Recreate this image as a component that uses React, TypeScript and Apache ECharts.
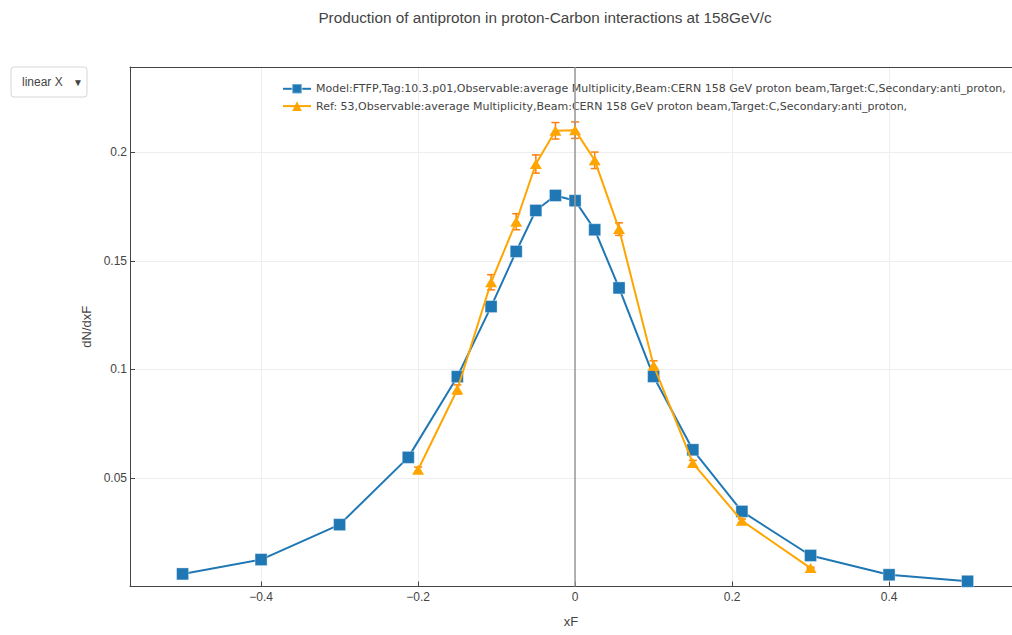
import React, { useEffect, useRef } from "react";
import * as echarts from "echarts";

// Model prediction (FTFP, Geant4 10.3.p01)
const modelName =
  "Model:FTFP,Tag:10.3.p01,Observable:average Multiplicity,Beam:CERN 158 GeV proton beam,Target:C,Secondary:anti_proton,";
const modelX = [-0.5, -0.4, -0.3, -0.2125, -0.15, -0.107, -0.075, -0.05, -0.025, 0, 0.025, 0.056, 0.1, 0.15, 0.2125, 0.3, 0.4, 0.5];
const modelY = [0.0058, 0.0124, 0.0285, 0.0595, 0.0967, 0.129, 0.1544, 0.1733, 0.1802, 0.1778, 0.1644, 0.1376, 0.0968, 0.063, 0.0346, 0.0143, 0.0054, 0.0024];

// Reference measurement with its uncertainties
const refName =
  "Ref: 53,Observable:average Multiplicity,Beam:CERN 158 GeV proton beam,Target:C,Secondary:anti_proton,";
const refX = [-0.2, -0.15, -0.107, -0.075, -0.05, -0.025, 0, 0.025, 0.056, 0.1, 0.15, 0.2125, 0.3];
const refY = [0.0538, 0.0908, 0.1402, 0.1681, 0.1947, 0.21, 0.2103, 0.1964, 0.1647, 0.1019, 0.0569, 0.0303, 0.0085];
const refErr = [0.0012, 0.0021, 0.0035, 0.0037, 0.0042, 0.0038, 0.0038, 0.0038, 0.0029, 0.0021, 0.0012, 0.0008, 0.0004];

const titleText = "Production of antiproton in proton-Carbon interactions at 158GeV/c";
const xName = "xF";
const yName = "dN/dxF";

// visible xF window (the plot continues past the right edge)
const X_MIN = -0.567;
const X_MAX = 0.5566;

const BLUE = "#1f77b4";
const ORANGE = "#ffa500";
const ERR = "#ff7f0e";
const TXT = "#444";
const SANS = "'Liberation Sans', Arial, sans-serif";

export default function App() {
  const ref = useRef<HTMLDivElement>(null);

  useEffect(() => {
    if (!ref.current) return;
    const chart = echarts.init(ref.current, undefined, { renderer: "svg" });

    const modelData = modelX.map((x, i) => [x, modelY[i]]);
    const refData = refX.map((x, i) => [x, refY[i]]);
    const errData = refX.map((x, i) => [x, refY[i] - refErr[i], refY[i] + refErr[i]]);

    const minus = (v: number) => String(v).replace("-", "\u2212");

    chart.setOption({
      animation: false,
      backgroundColor: "#fff",
      graphic: [
        {
          type: "text",
          x: 545,
          y: 17,
          style: {
            text: titleText,
            fill: TXT,
            font: `15.3px ${SANS}`,
            textAlign: "center",
            textVerticalAlign: "middle",
          },
        },
        {
          type: "group",
          x: 11,
          y: 67,
          children: [
            {
              type: "rect",
              shape: { x: 0, y: 0, width: 76, height: 30, r: 3 },
              style: { fill: "#fff", stroke: "#d6d6d6", lineWidth: 1 },
            },
            {
              type: "text",
              x: 11,
              y: 15,
              style: { text: "linear X", fill: TXT, font: `12px ${SANS}`, textVerticalAlign: "middle" },
            },
            {
              type: "text",
              x: 62,
              y: 15,
              style: { text: "\u25BC", fill: TXT, font: `10px ${SANS}`, textVerticalAlign: "middle" },
            },
          ],
        },
      ],
      legend: {
        left: 282,
        top: 83,
        padding: 0,
        orient: "vertical",
        itemWidth: 28,
        itemHeight: 12,
        itemGap: 6,
        data: [modelName, refName],
        textStyle: { color: TXT, fontFamily: "'DejaVu Sans', sans-serif", fontSize: 11 },
      },
      grid: {
        left: 130,
        right: 0,
        top: 67,
        bottom: 48.5,
      },
      xAxis: [
        {
          type: "value",
          min: X_MIN,
          max: X_MAX,
          splitNumber: 5,
          name: xName,
          nameLocation: "middle",
          nameGap: 28,
          nameTextStyle: { color: TXT, fontFamily: SANS, fontSize: 13 },
          axisLine: { show: true, onZero: false, lineStyle: { color: TXT, width: 1 } },
          axisTick: { show: true, inside: true, length: 5, lineStyle: { color: TXT } },
          axisLabel: {
            color: TXT,
            fontFamily: SANS,
            fontSize: 12,
            margin: 4,
            showMinLabel: false,
            showMaxLabel: false,
            formatter: (v: number) => minus(v),
          },
          splitLine: { show: true, lineStyle: { color: "#eee", width: 1 } },
        },
        {
          // upper frame line
          type: "value",
          position: "top",
          min: X_MIN,
          max: X_MAX,
          axisLine: { show: true, onZero: false, lineStyle: { color: TXT, width: 1 } },
          axisTick: { show: false },
          axisLabel: { show: false },
          splitLine: { show: false },
        },
      ],
      yAxis: {
        type: "value",
        min: 0,
        max: 0.2394,
        interval: 0.05,
        name: yName,
        nameLocation: "middle",
        nameGap: 32,
        nameTextStyle: { color: TXT, fontFamily: SANS, fontSize: 13 },
        axisLine: { show: true, onZero: false, lineStyle: { color: TXT, width: 1 } },
        axisTick: { show: true, inside: true, length: 5, lineStyle: { color: TXT } },
        axisLabel: {
          color: TXT,
          fontFamily: SANS,
          fontSize: 12,
          margin: 3,
          showMinLabel: false,
          showMaxLabel: false,
        },
        splitLine: { show: true, lineStyle: { color: "#eee", width: 1 } },
      },
      series: [
        {
          // vertical zero line of the xF axis
          type: "line",
          data: [],
          markLine: {
            silent: true,
            symbol: "none",
            label: { show: false },
            lineStyle: { color: "#999", width: 1.5, type: "solid" },
            data: [{ xAxis: 0 }],
          },
          z: 1,
        },
        {
          name: modelName,
          type: "line",
          data: modelData,
          symbol: "rect",
          symbolSize: 12,
          lineStyle: { color: BLUE, width: 2 },
          itemStyle: { color: BLUE, borderColor: "rgba(255,255,255,0.35)", borderWidth: 1 },
          z: 3,
        },
        {
          type: "custom",
          data: errData,
          renderItem: (params: any, api: any) => {
            const x = api.value(0);
            const top = api.coord([x, api.value(2)]);
            const bot = api.coord([x, api.value(1)]);
            const cap = 4;
            const st = { stroke: ERR, lineWidth: 1.5 };
            return {
              type: "group",
              children: [
                { type: "line", shape: { x1: top[0], y1: top[1], x2: bot[0], y2: bot[1] }, style: st },
                { type: "line", shape: { x1: top[0] - cap, y1: top[1], x2: top[0] + cap, y2: top[1] }, style: st },
                { type: "line", shape: { x1: bot[0] - cap, y1: bot[1], x2: bot[0] + cap, y2: bot[1] }, style: st },
              ],
            };
          },
          z: 4,
        },
        {
          name: refName,
          type: "line",
          data: refData,
          symbol: "triangle",
          symbolSize: [12, 10],
          lineStyle: { color: ORANGE, width: 2 },
          itemStyle: { color: ORANGE },
          z: 5,
        },
      ],
    });

    return () => chart.dispose();
  }, []);

  return (
    <div
      ref={ref}
      style={{ position: "fixed", left: 0, top: 0, width: 1012, height: 635, overflow: "hidden" }}
    />
  );
}
